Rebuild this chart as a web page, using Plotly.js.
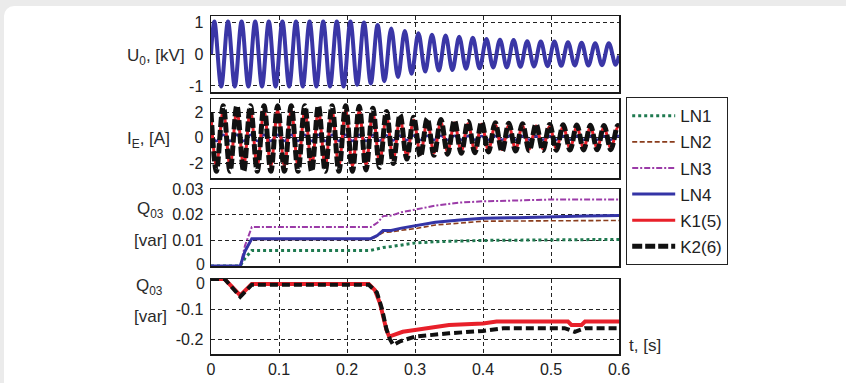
<!DOCTYPE html>
<html>
<head>
<meta charset="utf-8">
<script src="https://cdn.plot.ly/plotly-3.0.1.min.js"></script>
<style>
html, body { margin: 0; padding: 0; background: #ebebeb; overflow: hidden; }
#panel { position: absolute; left: 4px; top: 6px; width: 900px; height: 420px; background: #ffffff; border-radius: 10px; }
#chart { position: absolute; left: 0; top: 0; width: 846px; height: 383px; }
</style>
</head>
<body>
<div id="panel"></div>
<div id="chart"></div>
<script>
// ---------- U0 [kV] : extremes of the zero-sequence voltage ----------
const u0Time = [0,0.005,0.015,0.025,0.035,0.045,0.055,0.065,0.075,0.085,0.095,0.105,0.115,0.125,0.135,0.145,0.155,0.165,0.175,0.185,0.195,0.205,0.215,0.225,0.235,0.245,0.255,0.265,0.275,0.285,0.295,0.305,0.315,0.325,0.335,0.345,0.355,0.365,0.375,0.385,0.395,0.405,0.415,0.425,0.435,0.445,0.455,0.465,0.475,0.485,0.495,0.505,0.515,0.525,0.535,0.545,0.555,0.565,0.575,0.585,0.595,0.6];
const u0Values = [0,1.02,-1.02,1.02,-1.02,1.02,-1.02,1.02,-1.02,1.02,-1.02,1.02,-1.02,1.02,-1.02,1.02,-1.02,1.02,-1.02,1.02,-1.02,
  1.02,-0.96,0.99,-0.92,0.91,-0.85,0.80,-0.72,0.72,-0.62,0.65,-0.55,0.60,-0.52,0.58,-0.50,0.54,-0.46,0.51,-0.45,
  0.47,-0.42,0.45,-0.42,0.44,-0.40,0.40,-0.39,0.39,-0.38,0.39,-0.37,0.37,-0.36,0.35,-0.36,0.34,-0.35,0.34,-0.34,-0.05];

// ---------- IE [A] : extremes of the earth currents ----------
const ieTime = [0,0.008,0.018,0.028,0.038,0.048,0.058,0.068,0.078,0.088,0.098,0.108,0.118,0.128,0.138,0.148,0.158,0.168,0.178,0.188,0.198,0.208,0.218,0.228,0.238,0.248,0.258,0.268,0.278,0.288,0.298,0.308,0.318,0.328,0.338,0.348,0.358,0.368,0.378,0.388,0.398,0.408,0.418,0.428,0.438,0.448,0.458,0.468,0.478,0.488,0.498,0.508,0.518,0.528,0.538,0.548,0.558,0.568,0.578,0.588,0.598,0.6];
const ieK2 = [2.0,-2.6,2.5,-2.6,2.5,-2.6,2.5,-2.6,2.5,-2.6,2.5,-2.6,2.5,-2.6,2.5,-2.6,2.5,-2.6,2.5,-2.6,2.5,
  -2.6,2.45,-2.5,2.3,-2.3,2.05,-2.0,1.8,-1.65,1.6,-1.45,1.5,-1.35,1.42,-1.27,1.35,-1.2,1.28,-1.15,1.22,
  -1.1,1.18,-1.06,1.14,-1.03,1.1,-1.0,1.07,-0.98,1.04,-0.96,1.02,-0.95,1.0,-0.94,0.98,-0.93,0.97,-0.92,0.96,0.9];
const ieK1 = [1.7,-2.2,2.15,-2.2,2.15,-2.2,2.15,-2.2,2.15,-2.2,2.15,-2.2,2.15,-2.2,2.15,-2.2,2.15,-2.2,2.15,-2.2,2.15,
  -2.2,2.1,-2.1,1.95,-1.95,1.75,-1.7,1.55,-1.42,1.38,-1.25,1.28,-1.16,1.22,-1.09,1.16,-1.03,1.1,-0.99,1.05,
  -0.95,1.01,-0.91,0.98,-0.89,0.95,-0.86,0.92,-0.84,0.89,-0.83,0.88,-0.82,0.86,-0.81,0.84,-0.8,0.83,-0.79,0.83,0.78];
const ieLN4 = [0.2,-0.25,0.25,-0.25,0.25,-0.25,0.25,-0.25,0.25,-0.25,0.25,-0.25,0.25,-0.25,0.25,-0.25,0.25,-0.25,0.25,-0.25,0.25,
  -0.25,0.25,-0.24,0.23,-0.22,0.21,-0.2,0.19,-0.18,0.18,-0.17,0.17,-0.16,0.16,-0.16,0.16,-0.15,0.15,-0.15,0.15,
  -0.15,0.15,-0.15,0.15,-0.15,0.15,-0.15,0.15,-0.15,0.15,-0.15,0.15,-0.15,0.15,-0.15,0.15,-0.15,0.15,-0.15,0.15,0.14];

// ---------- Q03 [var] of the lines LN1..LN4 ----------
const qlTime = [0,0.043,0.05,0.06,0.235,0.245,0.253,0.265,0.28,0.3,0.33,0.366,0.4,0.45,0.5,0.55,0.6];
const qLN1 = [0,0,0.003,0.0061,0.0061,0.0068,0.0072,0.0076,0.0083,0.009,0.0095,0.0098,0.01,0.0101,0.0102,0.0103,0.0104];
const qLN2 = [0,0,0.0055,0.0104,0.0104,0.0117,0.0131,0.0133,0.014,0.0146,0.016,0.0169,0.0175,0.0176,0.0177,0.0178,0.0178];
const qLN3 = [0,0,0.008,0.0152,0.0152,0.017,0.0195,0.0197,0.021,0.022,0.0236,0.0248,0.0253,0.0256,0.026,0.026,0.026];
const qLN4 = [0,0,0.0058,0.0107,0.0107,0.012,0.0139,0.0139,0.0148,0.0158,0.0171,0.018,0.0187,0.0189,0.0193,0.0195,0.0197];

// ---------- Q03 [var] of the compensating devices K1(5), K2(6) ----------
const qK1Time = [0,0.02,0.043,0.06,0.232,0.241,0.2485,0.2534,0.258,0.262,0.268,0.282,0.3,0.35,0.4,0.42,0.525,0.53,0.545,0.55,0.6];
const qK1 = [0,0,-0.055,-0.017,-0.017,-0.037,-0.081,-0.126,-0.17,-0.192,-0.187,-0.176,-0.17,-0.153,-0.148,-0.142,-0.142,-0.153,-0.153,-0.142,-0.142];
const qK2Time = [0,0.02,0.043,0.06,0.232,0.244,0.2515,0.258,0.263,0.268,0.279,0.3,0.35,0.4,0.43,0.52,0.535,0.55,0.6];
const qK2 = [0,0,-0.059,-0.019,-0.019,-0.045,-0.1,-0.167,-0.2,-0.22,-0.207,-0.192,-0.181,-0.173,-0.164,-0.164,-0.176,-0.164,-0.164];

const xTicks = [0,0.1,0.2,0.3,0.4,0.5,0.6];
const xTickText = ['0','0.1','0.2','0.3','0.4','0.5','0.6'];

const C = {LN1:'#1f7a50', LN2:'#8a3d1c', LN3:'#9b3ba8', LN4:'#3434a6', K1:'#e8202a', K2:'#111111', U0:'#3a36a6'};
const S = {
  LN1:{color:C.LN1, width:3, dash:'3px,3px'},
  LN2:{color:C.LN2, width:1.6, dash:'5px,2.5px'},
  LN3:{color:C.LN3, width:2, dash:'6px,2px,2px,2px'},
  LN4:{color:C.LN4, width:3},
  K1:{color:C.K1, width:4},
  K2:{color:C.K2, width:4, dash:'8px,4px'}
};

const data = [
  {x:u0Time, y:u0Values, xaxis:'x', yaxis:'y', mode:'lines', line:{color:C.U0, width:4, shape:'spline', smoothing:1}, showlegend:false, name:'U0'},
  {x:qlTime, y:qLN1, xaxis:'x3', yaxis:'y3', mode:'lines', line:S.LN1, name:'LN1', legendgroup:'g1'},
  {x:qlTime, y:qLN2, xaxis:'x3', yaxis:'y3', mode:'lines', line:S.LN2, name:'LN2', legendgroup:'g2'},
  {x:qlTime, y:qLN3, xaxis:'x3', yaxis:'y3', mode:'lines', line:S.LN3, name:'LN3', legendgroup:'g3'},
  {x:qlTime, y:qLN4, xaxis:'x3', yaxis:'y3', mode:'lines', line:S.LN4, name:'LN4', legendgroup:'g4'},
  {x:ieTime, y:ieLN4, xaxis:'x2', yaxis:'y2', mode:'lines', line:Object.assign({}, S.LN4, {width:2.5, shape:'spline'}), name:'LN4', legendgroup:'g4', showlegend:false},
  {x:ieTime, y:ieK1, xaxis:'x2', yaxis:'y2', mode:'lines', line:Object.assign({}, S.K1, {width:3, shape:'spline'}), name:'K1(5)', legendgroup:'g5'},
  {x:ieTime, y:ieK2, xaxis:'x2', yaxis:'y2', mode:'lines', line:Object.assign({}, S.K2, {width:5, dash:'10px,3px', shape:'spline'}), name:'K2(6)', legendgroup:'g6'},
  {x:qK1Time, y:qK1, xaxis:'x4', yaxis:'y4', mode:'lines', line:S.K1, name:'K1(5)', legendgroup:'g5', showlegend:false},
  {x:qK2Time, y:qK2, xaxis:'x4', yaxis:'y4', mode:'lines', line:S.K2, name:'K2(6)', legendgroup:'g6', showlegend:false}
];

const xDom = [211/846, 619/846];
function py(top, bottom){ return [1 - bottom/383, 1 - top/383]; }
const gridCommon = {showgrid:true, gridcolor:'#222', gridwidth:1, griddash:'4px,3px', zeroline:false,
  showline:true, linecolor:'#1a1a1a', linewidth:1.5, mirror:true, ticks:'', fixedrange:true};
function xa(anchor, labels){
  return Object.assign({}, gridCommon, {domain:xDom, anchor:anchor, range:[0,0.6], tickmode:'array', tickvals:xTicks, ticktext:xTickText,
    showticklabels:labels, ticklabelstandoff:0, tickfont:{size:16}});
}
function ya(anchor, dom, range, vals, txt){
  return Object.assign({}, gridCommon, {domain:dom, anchor:anchor, range:range, tickmode:'array', tickvals:vals, ticktext:txt,
    ticklabelstandoff:3, tickfont:{size:16}});
}

const ann = (text, x, y, xanchor, size) => ({text:text, x:x/846, y:1-y/383, xref:'paper', yref:'paper', xanchor:xanchor||'center', yanchor:'middle',
  showarrow:false, font:{size:size||17, color:'#2a2a2a'}});

const layout = {
  width:846, height:383, margin:{l:0, r:0, t:0, b:0},
  paper_bgcolor:'rgba(0,0,0,0)', plot_bgcolor:'#ffffff',
  font:{family:'"Liberation Sans", Arial, sans-serif', size:16, color:'#222'},
  showlegend:true,
  legend:{x:626/846, y:1-97/383, xanchor:'left', yanchor:'top', bgcolor:'#ffffff', bordercolor:'#222', borderwidth:1.2,
    font:{size:17, color:'#222'}, traceorder:'grouped', tracegroupgap:1, itemwidth:43},
  xaxis: xa('y', false),
  xaxis2: xa('y2', false),
  xaxis3: xa('y3', false),
  xaxis4: xa('y4', true),
  yaxis: ya('x', py(16,92), [-1.19,1.19], [-1,0,1], ['-1','0','1']),
  yaxis2: ya('x2', py(99,178), [-3.12,3.02], [-2,0,2], ['-2','0','2']),
  yaxis3: ya('x3', py(189,266), [0,0.0301], [0.01,0.02,0.03], ['0.01','0.02','0.03']),
  yaxis4: ya('x4', py(279,354), [-0.25,0], [-0.2,-0.1], ['-0.2','-0.1']),
  annotations:[
    ann('U<sub>0</sub>, [kV]', 156, 57),
    ann('I<sub>E</sub>, [A]', 148, 140),
    ann('Q<sub>03</sub>', 150, 210),
    ann('[var]', 150, 240),
    ann('Q<sub>03</sub>', 149, 287),
    ann('[var]', 150, 316),
    ann('t, [s]', 627, 345, 'left'),
    ann('0', 207, 264, 'right', 16),
    ann('0', 207, 283, 'right', 16)
  ]
};

Plotly.newPlot('chart', data, layout, {staticPlot:true, displayModeBar:false});
</script>
</body>
</html>
